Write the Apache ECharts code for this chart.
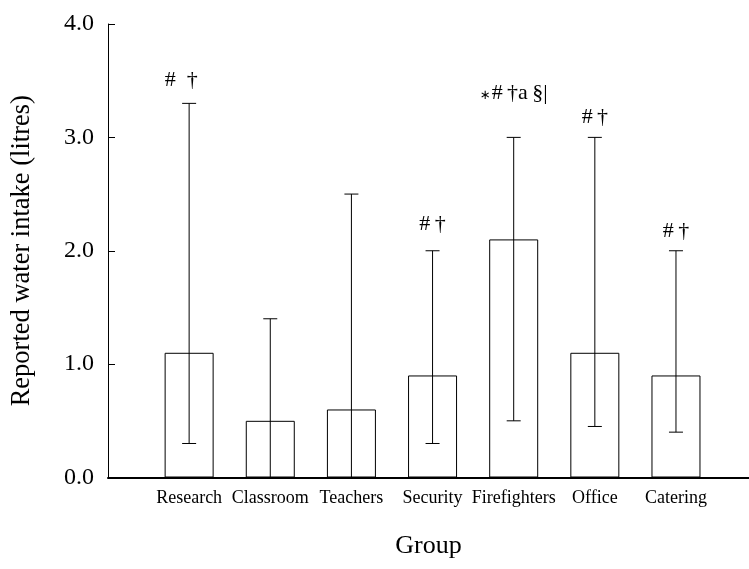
<!DOCTYPE html>
<html>
<head>
<meta charset="utf-8">
<script src="https://cdn.jsdelivr.net/npm/echarts@6/dist/echarts.min.js"></script>
<style>
  html, body { margin: 0; padding: 0; background: #fff; }
  #chart { width: 749px; height: 569px; }
</style>
</head>
<body>
<div id="chart"></div>
<script>
// groups on the x axis
const categories = ['Research', 'Classroom', 'Teachers', 'Security', 'Firefighters', 'Office', 'Catering']
// mean reported intake (litres)
const means = [1.1, 0.5, 0.6, 0.9, 2.1, 1.1, 0.9]
// error bar range
const lows = [0.3, 0.0, 0.0, 0.3, 0.5, 0.45, 0.4]
const highs = [3.3, 1.4, 2.5, 2.0, 3.0, 3.0, 2.0]
// significance marks ({s|..} = small asterisk) and the height they sit at
const marks = ['#  \u2020', '', '', '#\u2009\u2020', '{s|\u2217}#\u2009\u2020a\u2009\u00a7|', '#\u2009\u2020', '#\u2009\u2020']
const markLevels = [3.5, null, null, 2.23, 3.39, 3.18, 2.17]
const yTicks = [0, 1, 2, 3, 4]

const serif = "'Liberation Serif', 'Times New Roman', serif"
const chart = echarts.init(document.getElementById('chart'))

const option = {
  animation: false,
  backgroundColor: '#fff',
  grid: { left: 108, right: 0, top: 24, bottom: 91.5 },
  xAxis: {
    type: 'value',
    min: 0,
    max: 7.9,
    interval: 1,
    name: 'Group',
    nameLocation: 'middle',
    nameGap: 56,
    nameTextStyle: { fontFamily: serif, fontSize: 26, color: '#000' },
    axisLine: { lineStyle: { color: '#000', width: 2 } },
    axisTick: { inside: true, length: 5, lineStyle: { color: '#000' } },
    axisLabel: {
      fontFamily: serif,
      fontSize: 18,
      color: '#000',
      margin: 12,
      showMaxLabel: false,
      formatter: v => categories[v - 1] || ''
    },
    splitLine: { show: false }
  },
  yAxis: {
    type: 'value',
    min: yTicks[0],
    max: yTicks[yTicks.length - 1],
    interval: 1,
    name: 'Reported water intake (litres)',
    nameLocation: 'middle',
    nameGap: 72,
    nameRotate: 90,
    nameTextStyle: { fontFamily: serif, fontSize: 26.5, color: '#000' },
    axisLine: { show: true, lineStyle: { color: '#000', width: 1 } },
    axisTick: { show: true, inside: true, length: 7, lineStyle: { color: '#000' } },
    axisLabel: {
      fontFamily: serif,
      fontSize: 24,
      color: '#000',
      margin: 14,
      formatter: v => v.toFixed(1)
    },
    splitLine: { show: false }
  },
  series: [
    {
      type: 'bar',
      barWidth: 49,
      data: means.map((m, i) => [i + 1, m]),
      itemStyle: { color: '#fff', borderColor: '#000', borderWidth: 1 },
      z: 2
    },
    {
      type: 'custom',
      z: 3,
      data: lows.map((lo, i) => [i + 1, lo, highs[i]]),
      renderItem: (params, api) => {
        const x = api.value(0)
        const top = api.coord([x, api.value(2)])
        const bot = api.coord([x, api.value(1)])
        const hw = 7
        const style = { stroke: '#000', lineWidth: 1 }
        return {
          type: 'group',
          children: [
            { type: 'line', shape: { x1: top[0], y1: top[1], x2: bot[0], y2: bot[1] }, style },
            { type: 'line', shape: { x1: top[0] - hw, y1: top[1], x2: top[0] + hw, y2: top[1] }, style },
            { type: 'line', shape: { x1: bot[0] - hw, y1: bot[1], x2: bot[0] + hw, y2: bot[1] }, style }
          ]
        }
      }
    },
    {
      type: 'scatter',
      symbolSize: 0,
      itemStyle: { color: 'rgba(0,0,0,0)', opacity: 1 },
      z: 4,
      data: marks
        .map((t, i) => ({
          value: [i + 1, markLevels[i]],
          text: t,
          // the first group's mark sits a little left of its bar
          label: i === 0 ? { offset: [-8, 0] } : undefined
        }))
        .filter(d => d.text),
      label: {
        show: true,
        position: 'inside',
        fontFamily: serif,
        fontSize: 22,
        color: '#000',
        formatter: p => p.data.text,
        rich: {
          s: { fontFamily: 'DejaVu Sans', fontSize: 13, color: '#000', padding: [4, 1, 0, 0] }
        }
      }
    }
  ]
}

chart.setOption(option)
</script>
</body>
</html>
